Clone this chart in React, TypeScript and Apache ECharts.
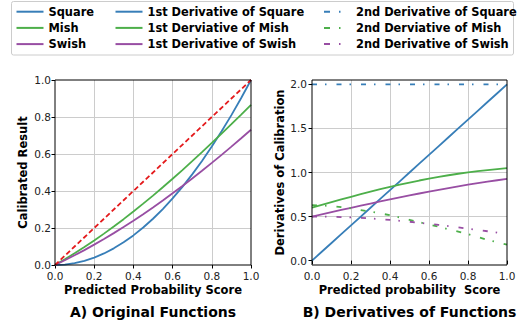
import React, { useEffect, useRef } from "react";
import * as echarts from "echarts";

// x positions (predicted probability score)
const xs = [0, 0.05, 0.1, 0.15, 0.2, 0.25, 0.3, 0.35, 0.4, 0.45, 0.5, 0.55, 0.6, 0.65, 0.7, 0.75, 0.8, 0.85, 0.9, 0.95, 1.0];

// A) Original functions
const square = [0, 0.0025, 0.01, 0.0225, 0.04, 0.0625, 0.09, 0.1225, 0.16, 0.2025, 0.25, 0.3025, 0.36, 0.4225, 0.49, 0.5625, 0.64, 0.7225, 0.81, 0.9025, 1.0];
const mish = [0, 0.0308, 0.0632, 0.0971, 0.1326, 0.1696, 0.208, 0.2478, 0.289, 0.3315, 0.3752, 0.4201, 0.4661, 0.5132, 0.5611, 0.61, 0.6597, 0.7101, 0.7612, 0.8129, 0.8651];
const swish = [0, 0.0256, 0.0525, 0.0806, 0.11, 0.1405, 0.1723, 0.2053, 0.2395, 0.2748, 0.3112, 0.3488, 0.3874, 0.4271, 0.4677, 0.5094, 0.552, 0.5955, 0.6399, 0.6851, 0.7311];
const diagX = [0, 1];
const diagY = [0, 1];

// B) Derivatives
const dSquare = [0, 0.1, 0.2, 0.3, 0.4, 0.5, 0.6, 0.7, 0.8, 0.9, 1.0, 1.1, 1.2, 1.3, 1.4, 1.5, 1.6, 1.7, 1.8, 1.9, 2.0];
const dMish = [0.6, 0.6319, 0.6633, 0.6943, 0.7246, 0.7542, 0.7828, 0.8105, 0.837, 0.8624, 0.8864, 0.9091, 0.9305, 0.9504, 0.9688, 0.9858, 1.0013, 1.0153, 1.0279, 1.0391, 1.049];
const dSwish = [0.5, 0.525, 0.5499, 0.5747, 0.5993, 0.6237, 0.6478, 0.6715, 0.6948, 0.7176, 0.74, 0.7617, 0.7829, 0.8035, 0.8234, 0.8426, 0.8611, 0.8789, 0.8959, 0.9122, 0.9277];
const d2Square = [2, 2, 2, 2, 2, 2, 2, 2, 2, 2, 2, 2, 2, 2, 2, 2, 2, 2, 2, 2, 2];
const d2Mish = [0.63, 0.625, 0.62, 0.607, 0.592, 0.574, 0.556, 0.536, 0.515, 0.49, 0.463, 0.435, 0.41, 0.385, 0.355, 0.328, 0.3, 0.268, 0.235, 0.208, 0.18];
const d2Swish = [0.5, 0.4994, 0.4975, 0.4944, 0.4901, 0.4846, 0.478, 0.4703, 0.4616, 0.4518, 0.4412, 0.4298, 0.4176, 0.4047, 0.3912, 0.3772, 0.3628, 0.348, 0.333, 0.3177, 0.3024];

const rightYTicks = [0, 0.5, 1.0, 1.5, 2.0];

const legendCol1 = ["Square", "Mish", "Swish"];
const legendCol2 = ["1st Derivative of Square", "1st Derviative of Mish", "1st Derivative of Swish"];
const legendCol3 = ["2nd Derivative of Square", "2nd Derviative of Mish", "2nd Derivative of Swish"];

const BLUE = "#377eb8";
const GREEN = "#4daf4a";
const PURPLE = "#984ea3";
const RED = "#e41a1c";
const FONT = "'DejaVu Sans', sans-serif";
const DASHDOT = [5, 8, 1.5, 10];

const G0 = { left: 55, top: 80, width: 196, height: 185 };
const G1 = { left: 312, top: 80, width: 195, height: 185 };

function pairs(x: number[], y: number[]) {
  return x.map((v, i) => [v, y[i]]);
}

function lineSeries(name: string, gi: number, y: number[], color: string, type: any = "solid", x: number[] = xs) {
  return {
    type: "line",
    name,
    xAxisIndex: gi,
    yAxisIndex: gi,
    data: pairs(x, y),
    symbol: "none",
    color,
    silent: true,
    lineStyle: { color, width: 1.8, type, cap: "butt" },
    itemStyle: { color },
  };
}

function xAxisCfg(gi: number) {
  return {
    gridIndex: gi,
    type: "value",
    min: 0,
    max: 1,
    interval: 0.2,
    axisLine: { show: false },
    axisTick: { show: true, length: 3.5, lineStyle: { color: "#000", width: 1 } },
    axisLabel: {
      fontSize: 10.5,
      fontFamily: FONT,
      color: "#222",
      margin: 5,
      formatter: (v: number) => v.toFixed(1),
    },
    splitLine: { show: true, showMinLine: false, showMaxLine: false, lineStyle: { color: "#cccccc", width: 1 } },
  };
}

const legendText = { fontSize: 11.4, fontWeight: "bold", fontFamily: FONT, color: "#000", lineHeight: 12 };

function legendCfg(names: string[], left: number, dashed: boolean) {
  return {
    data: names.map((n) =>
      dashed ? { name: n, lineStyle: { type: [6, 9, 1.5, 20] } } : { name: n }
    ),
    orient: "vertical",
    left,
    top: 5.7,
    itemWidth: 27,
    itemHeight: 12,
    itemGap: 4.2,
    padding: 0,
    selectedMode: false,
    textStyle: legendText,
    itemStyle: { opacity: 0 },
  };
}

export default function App() {
  const ref = useRef<HTMLDivElement>(null);
  useEffect(() => {
    if (!ref.current) return;
    const chart = echarts.init(ref.current, undefined, { renderer: "svg" });
    const option: any = {
      animation: false,
      backgroundColor: "#fff",
      grid: [
        { ...G0, containLabel: false },
        { ...G1, containLabel: false },
      ],
      xAxis: [xAxisCfg(0), xAxisCfg(1)],
      yAxis: [
        {
          gridIndex: 0,
          type: "value",
          min: 0,
          max: 1,
          interval: 0.2,
          axisLine: { show: false },
          axisTick: { show: true, length: 3.5, lineStyle: { color: "#000", width: 1 } },
          axisLabel: {
            fontSize: 10.5,
            fontFamily: FONT,
            color: "#222",
            margin: 4,
            formatter: (v: number) => v.toFixed(1),
          },
          splitLine: { show: true, showMinLine: false, showMaxLine: false, lineStyle: { color: "#cccccc", width: 1 } },
        },
        {
          gridIndex: 1,
          type: "value",
          min: -0.05,
          max: 2.05,
          splitNumber: 5,
          axisLine: { show: false },
          axisTick: {
            show: true,
            length: 3.5,
            customValues: rightYTicks,
            lineStyle: { color: "#000", width: 1 },
          },
          axisLabel: {
            fontSize: 10.5,
            fontFamily: FONT,
            color: "#222",
            margin: 5,
            customValues: rightYTicks,
            formatter: (v: number) =>
              Math.abs(v * 2 - Math.round(v * 2)) < 1e-6 ? v.toFixed(1) : "",
          },
          splitLine: { show: true, showMinLine: false, showMaxLine: false, lineStyle: { color: "#cccccc", width: 1 } },
        },
      ],
      legend: [
        legendCfg(legendCol1, 15.5, false),
        legendCfg(legendCol2, 114.5, false),
        legendCfg(legendCol3, 323, true),
      ],
      series: [
        lineSeries("Square", 0, square, BLUE),
        lineSeries("Mish", 0, mish, GREEN),
        lineSeries("Swish", 0, swish, PURPLE),
        lineSeries("Perfect calibration", 0, diagY, RED, [5, 2.8], diagX),
        lineSeries(legendCol2[0], 1, dSquare, BLUE),
        lineSeries(legendCol2[1], 1, dMish, GREEN),
        lineSeries(legendCol2[2], 1, dSwish, PURPLE),
        lineSeries(legendCol3[0], 1, d2Square, BLUE, DASHDOT),
        lineSeries(legendCol3[1], 1, d2Mish, GREEN, DASHDOT),
        lineSeries(legendCol3[2], 1, d2Swish, PURPLE, DASHDOT),
      ],
      graphic: [
        {
          type: "rect",
          z: 0,
          shape: { x: 11.5, y: 1.5, width: 502, height: 53.5, r: 2 },
          style: { fill: "#fff", stroke: "#cccccc", lineWidth: 1 },
        },
        {
          type: "rect",
          z: 50,
          silent: true,
          shape: { x: G0.left, y: G0.top, width: G0.width, height: G0.height },
          style: { fill: "none", stroke: "#000", lineWidth: 1 },
        },
        {
          type: "rect",
          z: 50,
          silent: true,
          shape: { x: G1.left, y: G1.top, width: G1.width, height: G1.height },
          style: { fill: "none", stroke: "#000", lineWidth: 1 },
        },
        {
          type: "text",
          x: 153,
          y: 290,
          style: { text: "Predicted Probability Score", fontSize: 11.5, fontWeight: "bold", fontFamily: FONT, fill: "#000", align: "center", verticalAlign: "middle" },
        },
        {
          type: "text",
          x: 409.5,
          y: 290,
          style: { text: "Predicted probability  Score", fontSize: 11.5, fontWeight: "bold", fontFamily: FONT, fill: "#000", align: "center", verticalAlign: "middle" },
        },
        {
          type: "text",
          x: 23,
          y: 172.5,
          rotation: Math.PI / 2,
          style: { text: "Calibrated Result", fontSize: 11.5, fontWeight: "bold", fontFamily: FONT, fill: "#000", align: "center", verticalAlign: "middle" },
        },
        {
          type: "text",
          x: 279.5,
          y: 172.5,
          rotation: Math.PI / 2,
          style: { text: "Derivatives of Calibration", fontSize: 11.5, fontWeight: "bold", fontFamily: FONT, fill: "#000", align: "center", verticalAlign: "middle" },
        },
        {
          type: "text",
          x: 153,
          y: 312,
          style: { text: "A) Original Functions", fontSize: 14, fontWeight: "bold", fontFamily: FONT, fill: "#000", align: "center", verticalAlign: "middle" },
        },
        {
          type: "text",
          x: 409.5,
          y: 312,
          style: { text: "B) Derivatives of Functions", fontSize: 14, fontWeight: "bold", fontFamily: FONT, fill: "#000", align: "center", verticalAlign: "middle" },
        },
      ],
    };
    chart.setOption(option);
    return () => chart.dispose();
  }, []);
  return (
    <div
      ref={ref}
      style={{ position: "fixed", left: 0, top: 0, width: 530, height: 324 }}
    />
  );
}
